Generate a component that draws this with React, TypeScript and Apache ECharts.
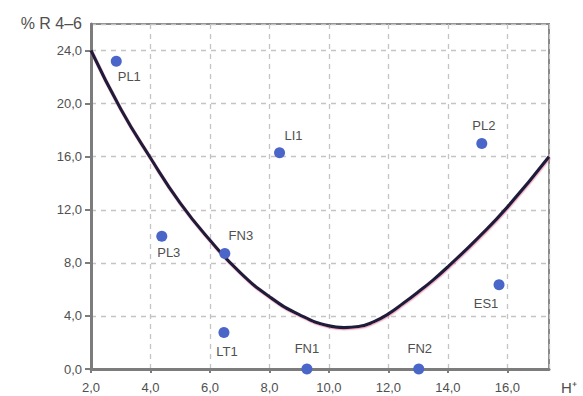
import React, { useEffect, useRef } from "react";
import * as echarts from "echarts";

// Sample sites: H+ (x) against % R 4–6 (y)
const siteNames = ["PL1", "PL3", "FN3", "LT1", "LI1", "FN1", "FN2", "PL2", "ES1"];
const siteH = [2.85, 4.38, 6.5, 6.47, 8.34, 9.26, 13.02, 15.14, 15.72];
const siteR = [23.2, 10.0, 8.7, 2.75, 16.3, 0.0, 0.0, 17.0, 6.35];

// Fitted trend curve, sampled along H+
const curveH = [2.0, 3.0, 4.0, 5.0, 6.0, 7.0, 8.0, 9.0, 10.0, 10.5, 11.0, 11.5, 12.0, 12.5, 13.0, 13.5, 14.0, 15.0, 16.0, 17.4];
const curveR = [24.0, 19.6, 15.9, 12.5, 9.7, 7.3, 5.45, 4.1, 3.25, 3.12, 3.2, 3.55, 4.15, 4.95, 5.8, 6.7, 7.7, 9.85, 12.2, 16.0];

// Axis ranges
const xMin = 2;
const xMax = 17.4;
const xStep = 2;
const yMin = 0;
const yMax = 26;
const yStep = 4;

const xTitle = "H⁺";
const yTitle = "% R 4–6";

// Where each site's label sits relative to its dot (pixels)
const labelOffsets: Record<string, [number, number]> = {
  PL1: [13, 15],
  PL3: [7, 16],
  FN3: [16, -18],
  LT1: [3, 19],
  LI1: [14, -17],
  FN1: [0, -21],
  FN2: [1, -21],
  PL2: [2, -18],
  ES1: [-13, 19],
};

const FONT = "'Liberation Sans', Arial, sans-serif";
const fmt = (v: number) => v.toFixed(1).replace(".", ",");

export default function App() {
  const ref = useRef<HTMLDivElement>(null);

  useEffect(() => {
    if (!ref.current) return;
    const chart = echarts.init(ref.current, null, { renderer: "svg" });

    const scatterData = siteNames.map((n, i) => ({
      name: n,
      value: [siteH[i], siteR[i]],
      label: { offset: labelOffsets[n] },
    }));
    const curveData = curveH.map((h, i) => [h, curveR[i]]);

    chart.setOption({
      animation: false,
      backgroundColor: "#ffffff",
      textStyle: { fontFamily: FONT },
      grid: {
        left: 91,
        top: 24,
        right: 34,
        bottom: 27,
        show: true,
        borderColor: "#8a8a8a",
        borderWidth: 2,
        backgroundColor: "transparent",
      },
      xAxis: {
        type: "value",
        min: xMin,
        max: xMax,
        interval: xStep,
        axisLine: { show: true, onZero: false, lineStyle: { color: "#7c7c7c", width: 3 } },
        axisTick: { show: true, length: 4, lineStyle: { color: "#7c7c7c", width: 2 } },
        axisLabel: {
          show: true,
          margin: 12,
          color: "#505050",
          fontSize: 13,
          fontFamily: FONT,
          showMaxLabel: false,
          formatter: (v: number) => fmt(v),
        },
        splitLine: { show: true, lineStyle: { color: "#c4c4c4", type: [5, 5], width: 1.3 } },
      },
      yAxis: {
        type: "value",
        min: yMin,
        max: yMax,
        interval: yStep,
        axisLine: { show: true, onZero: false, lineStyle: { color: "#7c7c7c", width: 3 } },
        axisTick: { show: true, length: 6, lineStyle: { color: "#7c7c7c", width: 2 } },
        axisLabel: {
          show: true,
          margin: 9,
          color: "#505050",
          fontSize: 13,
          fontFamily: FONT,
          showMaxLabel: false,
          formatter: (v: number) => fmt(v),
        },
        splitLine: { show: true, lineStyle: { color: "#c4c4c4", type: [5, 5], width: 1.3 } },
      },
      graphic: [
        {
          type: "text",
          right: 583 - 82,
          top: 15,
          style: {
            text: yTitle,
            fill: "#505050",
            font: `16px ${FONT}`,
          },
        },
        {
          type: "text",
          left: 561,
          top: 380,
          style: {
            text: xTitle,
            fill: "#505050",
            font: `15px ${FONT}`,
          },
        },
      ],
      series: [
        {
          type: "line",
          data: curveData,
          smooth: 0.5,
          showSymbol: false,
          silent: true,
          z: 2,
          lineStyle: {
            color: "#1e1c3a",
            width: 3.2,
            shadowColor: "rgba(225,110,150,0.55)",
            shadowOffsetY: 1.2,
            shadowOffsetX: 0.6,
            shadowBlur: 0,
          },
        },
        {
          type: "scatter",
          data: scatterData,
          symbolSize: 11,
          z: 3,
          itemStyle: { color: "#4a66c8", opacity: 1 },
          label: {
            show: true,
            position: "inside",
            formatter: (p: any) => p.name,
            color: "#505050",
            fontSize: 13,
            fontFamily: FONT,
            textBorderWidth: 0,
          },
        },
      ],
    });

    return () => chart.dispose();
  }, []);

  return (
    <div
      ref={ref}
      style={{ position: "fixed", left: 0, top: 0, width: 583, height: 396 }}
    />
  );
}
